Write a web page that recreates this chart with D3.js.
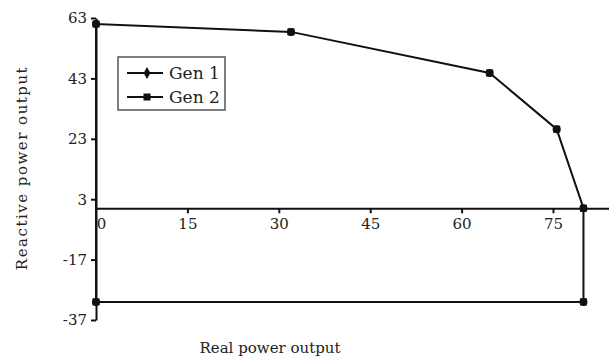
<!DOCTYPE html>
<html lang="en">
<head>
  <meta charset="UTF-8">
  <title>Generator capability</title>
  <script src="https://d3js.org/d3.v7.min.js"></script>
  <style>
    body { margin: 0; background: #fff; }
    svg text { font-family: "DejaVu Serif", serif; fill: #222; }
    .axis path, .axis line { stroke: #111; stroke-width: 2px; }
    .axis text { font-size: 15px; }
    .curve { fill: none; stroke: #111; stroke-width: 2px; }
  </style>
</head>
<body>
  <svg id="chart" width="609" height="358"></svg>
  <script>
    // capability boundary, real (P) vs reactive (Q) power
    const realPower     = [0, 0, 32, 64.6, 75.6, 80, 80, 0];
    const reactivePower = [-31, 61, 58.4, 44.8, 26.2, 0, -31, -31];
    const seriesNames = ["Gen 1", "Gen 2"];
    const xTicks = [0, 15, 30, 45, 60, 75];
    const yTicks = [63, 43, 23, 3, -17, -37];

    const pts = realPower.map((p, i) => ({ p, q: reactivePower[i] }));
    const svg = d3.select("#chart");

    const x = d3.scaleLinear().domain([0, 75]).range([96, 553]);
    const y = d3.scaleLinear().domain([-37, 63]).range([320, 18]);

    // x axis runs along Q = 0, out to the right edge
    const xAxis = svg.append("g")
      .attr("class", "axis")
      .attr("transform", `translate(0,${y(0)})`)
      .call(d3.axisBottom(d3.scaleLinear().domain([0, x.invert(609)]).range([96, 609]))
        .tickValues(xTicks).tickSize(5).tickSizeOuter(0).tickPadding(5));
    xAxis.selectAll(".tick").filter(d => d === 0).select("line").remove();
    xAxis.selectAll(".tick").filter(d => d === 0).select("text").attr("x", 5);

    svg.append("g")
      .attr("class", "axis")
      .attr("transform", `translate(${x(0)},0)`)
      .call(d3.axisLeft(y).tickValues(yTicks).tickFormat(d => String(d))
        .tickSize(5).tickSizeOuter(0).tickPadding(4));

    svg.selectAll(".axis text").attr("fill", "#222");

    const line = d3.line().x(d => x(d.p)).y(d => y(d.q));
    svg.append("path").datum(pts).attr("class", "curve").attr("d", line);

    // markers: Gen 1 round, Gen 2 square, same points
    const marks = pts.slice(0, 7);
    svg.selectAll(".m1").data(marks).enter().append("circle")
      .attr("cx", d => x(d.p)).attr("cy", d => y(d.q)).attr("r", 4).attr("fill", "#111");
    svg.selectAll(".m2").data(marks).enter().append("rect")
      .attr("x", d => x(d.p) - 3.5).attr("y", d => y(d.q) - 3.5)
      .attr("width", 7).attr("height", 7).attr("fill", "#111");

    // legend
    const lg = svg.append("g").attr("transform", "translate(118,57)");
    lg.append("rect").attr("width", 107).attr("height", 53)
      .attr("fill", "#fff").attr("stroke", "#555").attr("stroke-width", 1.5);
    seriesNames.forEach((name, i) => {
      const row = lg.append("g").attr("transform", `translate(0,${16 + i * 24})`);
      row.append("line").attr("x1", 9).attr("x2", 45).attr("stroke", "#111").attr("stroke-width", 2);
      if (i === 0) {
        row.append("path").attr("d", d3.symbol(d3.symbolDiamond, 40)()).attr("transform", "translate(29,0)").attr("fill", "#111");
      } else {
        row.append("rect").attr("x", 25.5).attr("y", -3.5).attr("width", 7).attr("height", 7).attr("fill", "#111");
      }
      row.append("text").attr("x", 51).attr("dy", "0.35em").attr("font-size", 17).text(name);
    });

    svg.append("text")
      .attr("x", 270).attr("y", 353)
      .attr("text-anchor", "middle").attr("font-size", 15)
      .text("Real power output");

    svg.append("text")
      .attr("transform", "translate(27,168) rotate(-90)")
      .attr("text-anchor", "middle").attr("font-size", 15)
      .attr("letter-spacing", 1.5)
      .text("Reactive power output");
  </script>
</body>
</html>
